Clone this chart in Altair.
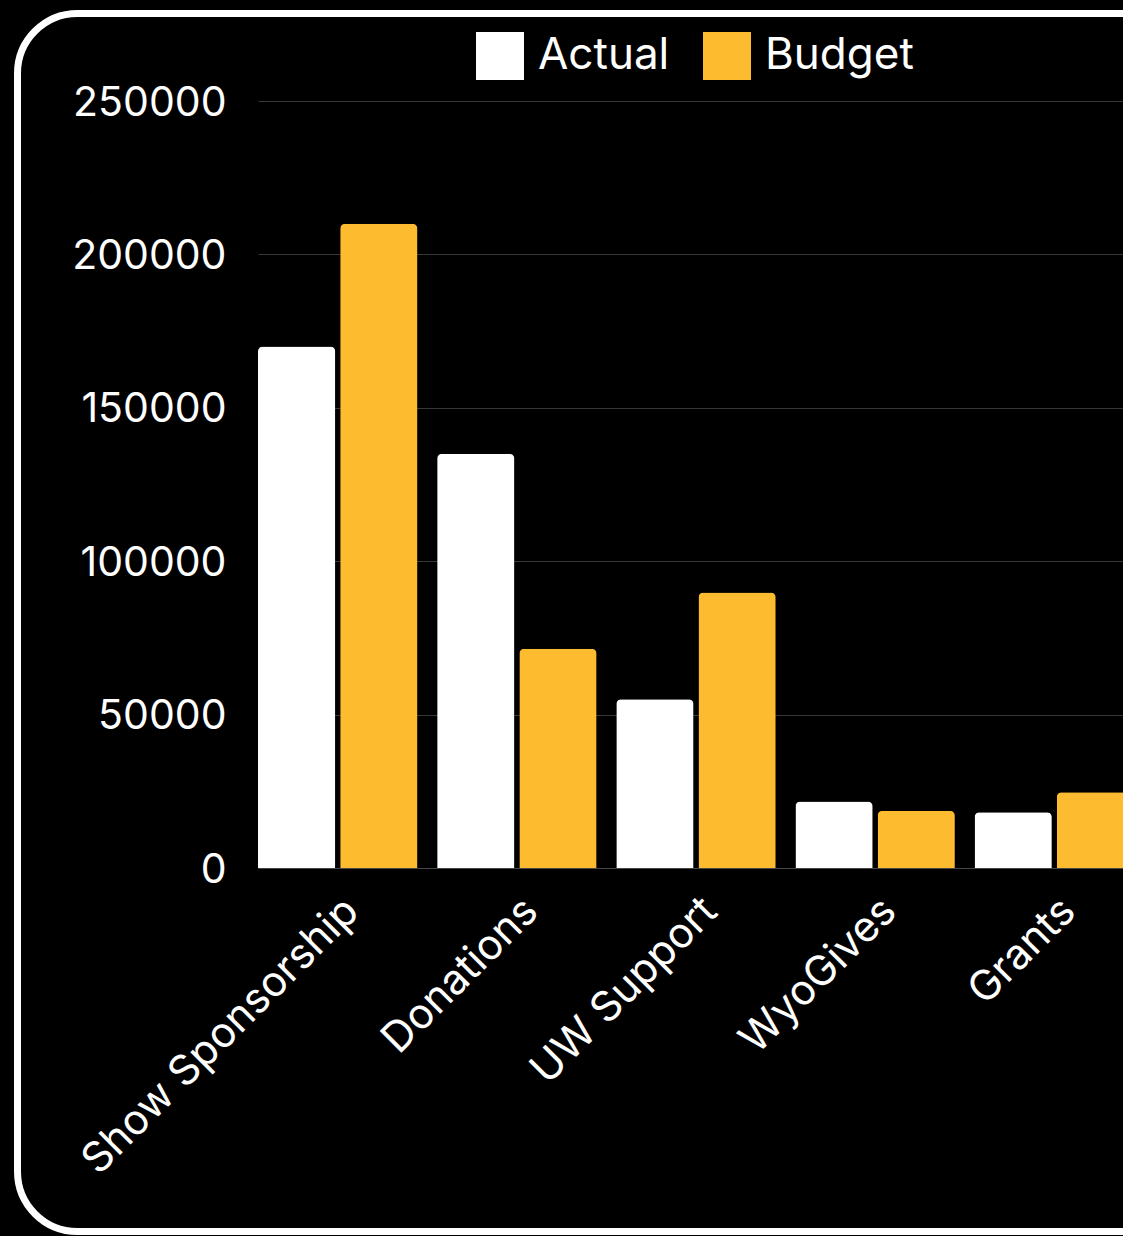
import altair as alt
import pandas as pd

categories = ["Show Sponsorship", "Donations", "UW Support", "WyoGives", "Grants"]
series = ["Actual", "Budget"]
actual = [170000, 135000, 55000, 21700, 18200]
budget = [210000, 71500, 89800, 18700, 24700]
y_ticks = [0, 50000, 100000, 150000, 200000, 250000]

rows = []
for c, a, b in zip(categories, actual, budget):
    rows.append({"category": c, "series": "Actual", "value": a})
    rows.append({"category": c, "series": "Budget", "value": b})
df = pd.DataFrame(rows)

FONT = "Inter"
W, H = 865, 767

bars = alt.Chart(df).mark_bar(
    cornerRadiusTopLeft=5, cornerRadiusTopRight=5
).encode(
    x=alt.X(
        "category:N",
        sort=categories,
        scale=alt.Scale(range=[0, 876], paddingInner=0.11, paddingOuter=0),
        axis=alt.Axis(
            title=None, labelAngle=-45, labelAlign="right", labelBaseline="top",
            labelFontSize=42, labelColor="white", labelFont=FONT, labelPadding=22,
            labelLimit=0, ticks=False, tickSize=0, domain=True,
            domainColor="#444444", domainWidth=1, grid=False,
        ),
    ),
    xOffset=alt.XOffset("series:N", sort=series, scale=alt.Scale(paddingInner=0.06, paddingOuter=0)),
    y=alt.Y(
        "value:Q",
        scale=alt.Scale(domain=[0, 250000], nice=False),
        axis=alt.Axis(
            title=None, values=y_ticks, format="d", labelFontSize=41,
            labelColor="white", labelFont=FONT, labelPadding=32, labelOffset=2,
            ticks=False, tickSize=0, domain=False, grid=True,
            gridColor="#383838", gridWidth=1,
        ),
    ),
    color=alt.Color(
        "series:N",
        scale=alt.Scale(domain=series, range=["#ffffff", "#fdbc2f"]),
        legend=alt.Legend(
            title=None, orient="none", legendX=218, legendY=-69,
            direction="horizontal", symbolType="square", symbolSize=2304,
            symbolStrokeWidth=0, symbolOpacity=1, labelFontSize=44,
            labelColor="white", labelFont=FONT, labelOffset=14,
            columnPadding=33, padding=0,
        ),
    ),
)

border = alt.Chart(pd.DataFrame({"b": [0]})).mark_rect(
    filled=False, stroke="white", strokeWidth=7, cornerRadius=60
).encode(
    x=alt.value(-240.5), x2=alt.value(W + 60),
    y=alt.value(-87.5), y2=alt.value(1130.5),
)

chart = alt.layer(border, bars).properties(
    width=W, height=H,
    autosize=alt.AutoSizeParams(type="none"),
    padding={"left": 258, "top": 101, "right": 0, "bottom": 1236 - 101 - H},
    background="black",
).configure_view(stroke=None)

chart.save("out.html", embed_options={"renderer": "svg", "actions": False})
